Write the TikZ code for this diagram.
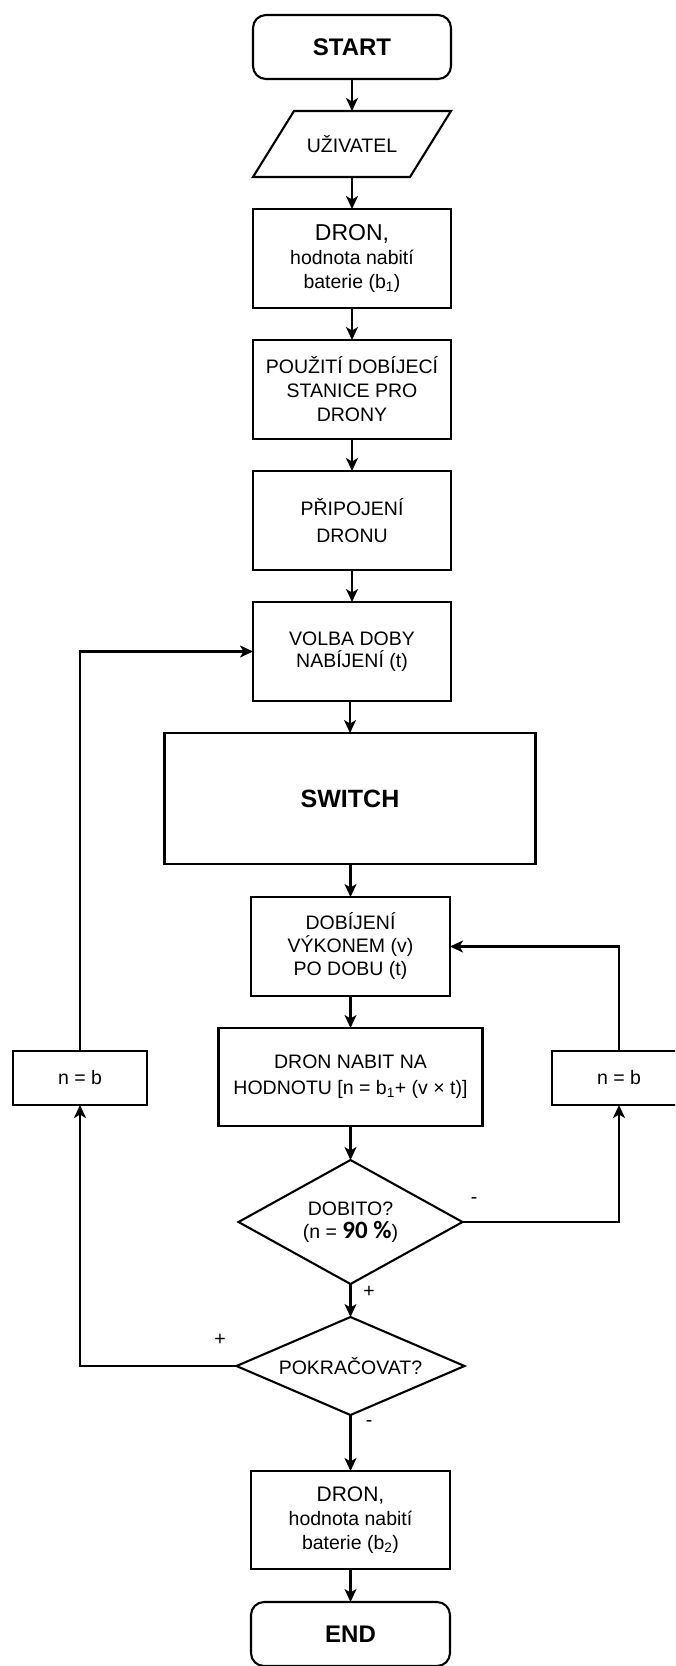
\documentclass[tikz,border=0pt]{standalone}
\usepackage{fontspec}
\setmainfont{Liberation Sans}
\newfontfamily\pctfont{Carlito}
\usetikzlibrary{arrows.meta,calc}

\begin{document}
\begin{tikzpicture}[x=1pt,y=-1pt,
  every node/.style={inner sep=0pt, outer sep=0pt, align=center,
    font=\fontsize{19.5}{24}\selectfont},
  stepbox/.style={draw, line width=2.1pt, minimum width=198pt, minimum height=99pt},
  termbox/.style={draw, line width=2.1pt, rounded corners=13pt, minimum width=198pt, minimum height=64pt,
    font=\fontsize{24}{28}\selectfont\bfseries},
  smallbox/.style={draw, line width=2.1pt, minimum width=134pt, minimum height=54pt},
  outline/.style={line width=2.1pt, line join=miter},
  flow/.style={line width=2.1pt, -{Stealth[length=13pt,width=12pt,inset=3.5pt]}},
  branchlabel/.style={font=\fontsize{19.5}{24}\selectfont}
]
\useasboundingbox (0,0) rectangle (675,1666);
\clip (0,0) rectangle (675,1666);

% main column
\node[termbox] (start) at (352,47) {START};
\node[minimum width=198pt, minimum height=66pt] (user) at (352,144) {UŽIVATEL};
\draw[outline]
  (user.south west) -- ($(user.north west)+(41,0)$) -- (user.north east)
  -- ($(user.south east)-(41,0)$) -- cycle;
\node[stepbox] (dron1) at (352,258.5)
  {{\fontsize{23}{24}\selectfont DRON,}\\hodnota nabití\\baterie (b\textsubscript{1})};
\node[stepbox] (station) at (352,389.5) {POUŽITÍ DOBÍJECÍ\\STANICE PRO\\DRONY};
\node[stepbox, font=\fontsize{19.5}{27}\selectfont] (connect) at (352,520.5) {PŘIPOJENÍ\\DRONU};
\node[stepbox, font=\fontsize{19.5}{22}\selectfont] (time) at (352,651.5) {VOLBA DOBY\\NABÍJENÍ (t)};
\node[draw, line width=2.1pt, minimum width=371pt, minimum height=131pt,
  font=\fontsize{25}{28}\selectfont\bfseries] (switch) at (350,798.5) {SWITCH};
\node[stepbox, minimum width=199pt, font=\fontsize{19.5}{23}\selectfont] (charge) at (350.5,946.5)
  {DOBÍJENÍ\\VÝKONEM (v)\\PO DOBU (t)};
\node[stepbox, minimum width=264pt, minimum height=98pt, font=\fontsize{19.5}{26}\selectfont] (level) at (350.5,1077)
  {DRON NABIT NA\\HODNOTU [n = b\textsubscript{1}+ (v × t)]};

% decisions: the node box spans the diamond, its tips are the side anchors
\node[minimum width=224pt, minimum height=124pt, font=\fontsize{19.5}{23}\selectfont] (done) at (350.5,1222)
  {DOBITO?\\(n = {\pctfont\fontsize{25}{23}\selectfont\bfseries 90 \%})};
\draw[outline] (done.north) -- (done.east) -- (done.south) -- (done.west) -- cycle;
\node[minimum width=228pt, minimum height=98pt] (again) at (350.5,1366) {POKRAČOVAT?};
\draw[outline] (again.north) -- (again.east) -- (again.south) -- (again.west) -- cycle;

\node[stepbox, minimum width=199pt, minimum height=98pt] (dron2) at (350.5,1520)
  {{\fontsize{21}{24}\selectfont DRON,}\\hodnota nabití\\baterie (b\textsubscript{2})};
\node[termbox, minimum width=199pt] (end) at (350.5,1634) {END};

% side boxes
\node[smallbox] (resetL) at (80,1078) {n = b};
\node[smallbox] (resetR) at (619,1078) {n = b};

% straight flow
\draw[flow] (start) -- (user);
\draw[flow] (user) -- (dron1);
\draw[flow] (dron1) -- (station);
\draw[flow] (station) -- (connect);
\draw[flow] (connect) -- (time);
\draw[flow] (switch.north |- time.south) -- (switch.north);
\draw[flow] (charge.north |- switch.south) -- (charge.north);
\draw[flow] (charge) -- (level);
\draw[flow] (level.south) -- (done.north);
\draw[flow] (done.south) -- (again.north);
\draw[flow] (again.south) -- (dron2.north);
\draw[flow] (dron2) -- (end);

% loops
\draw[flow] (done.east) -| (resetR.south);
\draw[flow] (resetR.north) |- (charge.east);
\draw[flow] (again.west) -| (resetL.south);
\draw[flow] (resetL.north) |- (time.west);

% branch marks
\node[branchlabel] (m1) at (474,1201) {-};
\node[branchlabel] (m2) at (369,1292) {+};
\node[branchlabel] (m3) at (220,1340) {+};
\node[branchlabel] (m4) at (369,1424) {-};
\end{tikzpicture}
\end{document}
